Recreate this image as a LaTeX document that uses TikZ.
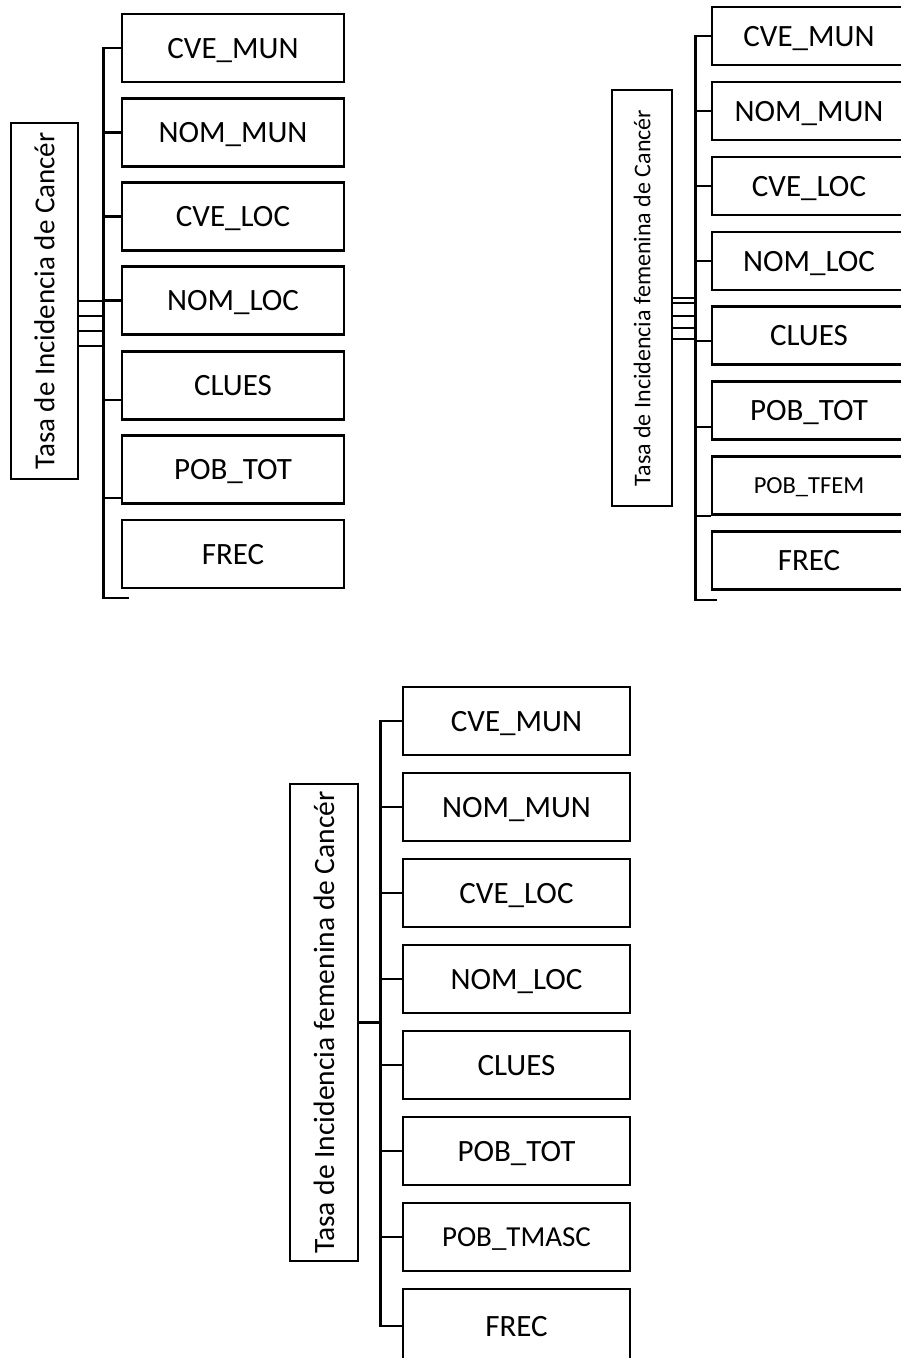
\documentclass[tikz,border=0pt]{standalone}
\usepackage{fontspec}
\setmainfont{Carlito}
\tikzset{
  rootbox/.style={draw, rotate=90, inner sep=0pt},
  fieldbox/.style={draw, inner sep=0pt, text height=20pt, text depth=0pt, font=\fontsize{31}{37}\selectfont},
  fieldA/.style={fieldbox, minimum width=222pt, minimum height=68pt},
  fieldB/.style={fieldbox, minimum width=194pt, minimum height=58pt},
  fieldC/.style={fieldbox, minimum width=227pt, minimum height=68pt},
}
\begin{document}
\begin{tikzpicture}[x=1pt, y=-1pt, line width=2.2pt]
  \useasboundingbox (0,0) rectangle (901,1358);

  % First table
  \node[rootbox, minimum width=356pt, minimum height=67pt, font=\fontsize{29}{35}\selectfont] (rootA) at (44.5,301) {Tasa de Incidencia de Cancér};
  \node[fieldA] (cA1) at (233,48) {CVE\_MUN};
  \node[fieldA] (cA2) at (233,132.5) {NOM\_MUN};
  \node[fieldA] (cA3) at (233,216.5) {CVE\_LOC};
  \node[fieldA] (cA4) at (233,300.5) {NOM\_LOC};
  \node[fieldA] (cA5) at (233,385.5) {CLUES};
  \node[fieldA] (cA6) at (233,469.5) {POB\_TOT};
  \node[fieldA] (cA7) at (233,554) {FREC};

  % Bracket of the first table
  \coordinate (sA) at (103.5,0);
  \coordinate (endA) at (129,598);
  \coordinate (tA5) at ([yshift=-14.5pt]cA5.west);
  \coordinate (tA6) at ([yshift=-28.5pt]cA6.west);
  \draw (cA1.west) -| (sA |- endA) -- (endA);
  \draw (sA |- cA2.west) -- (cA2.west);
  \draw (sA |- cA3.west) -- (cA3.west);
  \draw (sA |- cA4.west) -- (cA4.west);
  \draw (sA |- tA5) -- (tA5);
  \draw (sA |- tA6) -- (tA6);

  % Links from the first root
  \coordinate (rA1) at (rootA.south);
  \coordinate (rA2) at ([yshift=-15pt]rootA.south);
  \coordinate (rA3) at ([yshift=-30pt]rootA.south);
  \coordinate (rA4) at ([yshift=-45pt]rootA.south);
  \draw (rA1) -- (rA1 -| sA);
  \draw (rA2) -- (rA2 -| sA);
  \draw (rA3) -- (rA3 -| sA);
  \draw (rA4) -- (rA4 -| sA);

  % Second table
  \node[rootbox, minimum width=416pt, minimum height=60pt, font=\fontsize{24}{29}\selectfont] (rootB) at (642,298) {Tasa de Incidencia femenina de Cancér};
  \node[fieldB] (cB1) at (809,36) {CVE\_MUN};
  \node[fieldB] (cB2) at (809,111) {NOM\_MUN};
  \node[fieldB] (cB3) at (809,186) {CVE\_LOC};
  \node[fieldB] (cB4) at (809,261) {NOM\_LOC};
  \node[fieldB] (cB5) at (809,335.5) {CLUES};
  \node[fieldB] (cB6) at (809,410.5) {POB\_TOT};
  \node[fieldB, text height=16pt, font=\fontsize{24.5}{29}\selectfont] (cB7) at (809,485.5) {POB\_TFEM};
  \node[fieldB] (cB8) at (809,560.5) {FREC};

  % Bracket of the second table
  \coordinate (sB) at (695.5,0);
  \coordinate (endB) at (717,600);
  \coordinate (tB5) at ([yshift=-5.5pt]cB5.west);
  \coordinate (tB6) at ([yshift=-16.5pt]cB6.west);
  \draw (cB1.west) -| (sB |- endB) -- (endB);
  \draw (sB |- cB2.west) -- (cB2.west);
  \draw (sB |- cB3.west) -- (cB3.west);
  \draw (sB |- cB4.west) -- (cB4.west);
  \draw (sB |- tB5) -- (tB5);
  \draw (sB |- tB6) -- (tB6);
  \draw (sB |- cB7.south west) -- (cB7.south west);

  % Links from the second root
  \coordinate (rB1) at (rootB.south);
  \coordinate (rB2) at ([yshift=-5pt]rootB.south);
  \coordinate (rB3) at ([yshift=-18pt]rootB.south);
  \coordinate (rB4) at ([yshift=-30pt]rootB.south);
  \coordinate (rB5) at ([yshift=-41pt]rootB.south);
  \draw (rB1) -- (rB1 -| sB);
  \draw (rB2) -- (rB2 -| sB);
  \draw (rB3) -- (rB3 -| sB);
  \draw (rB4) -- (rB4 -| sB);
  \draw (rB5) -- (rB5 -| sB);

  % Third table
  \node[rootbox, minimum width=477pt, minimum height=68pt, font=\fontsize{29.5}{35}\selectfont] (rootC) at (324,1022.5) {Tasa de Incidencia femenina de Cancér};
  \node[fieldC] (cC1) at (516.5,721) {CVE\_MUN};
  \node[fieldC] (cC2) at (516.5,807) {NOM\_MUN};
  \node[fieldC] (cC3) at (516.5,893) {CVE\_LOC};
  \node[fieldC] (cC4) at (516.5,979) {NOM\_LOC};
  \node[fieldC] (cC5) at (516.5,1065) {CLUES};
  \node[fieldC] (cC6) at (516.5,1151) {POB\_TOT};
  \node[fieldC, text height=18.5pt, font=\fontsize{29}{35}\selectfont] (cC7) at (516.5,1237) {POB\_TMASC};
  \node[fieldC, minimum height=74pt] (cC8) at (516.5,1326) {FREC};

  % Bracket of the third table
  \coordinate (sC) at (380.5,0);
  \draw (cC1.west) -| (sC |- cC8.west) -- (cC8.west);
  \draw (sC |- cC2.west) -- (cC2.west);
  \draw (sC |- cC3.west) -- (cC3.west);
  \draw (sC |- cC4.west) -- (cC4.west);
  \draw (sC |- cC5.west) -- (cC5.west);
  \draw (sC |- cC6.west) -- (cC6.west);
  \draw (sC |- cC7.west) -- (cC7.west);
  \draw (rootC.south) -- (rootC.south -| sC);
\end{tikzpicture}
\end{document}
